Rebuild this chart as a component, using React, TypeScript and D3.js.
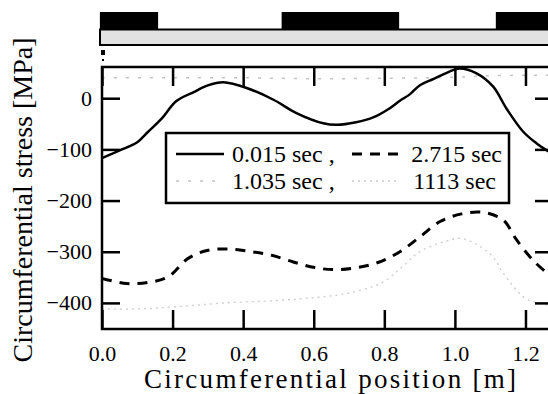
import * as d3 from "d3";
import { useEffect, useRef } from "react";

// circumferential position [m]
const posA = [0, 0.05, 0.1, 0.13, 0.169, 0.21, 0.26, 0.3, 0.344, 0.41, 0.486, 0.551, 0.627, 0.665, 0.72, 0.77, 0.81, 0.844, 0.873, 0.9, 0.94, 0.995, 1.014, 1.06, 1.108, 1.146, 1.193, 1.231, 1.263, 1.28];
// 0.015 sec
const stressA = [-117, -102, -86, -66, -40, -6, 12, 25, 31, 20, -3, -29, -49, -52, -47, -37, -22, -5, 8, 25, 38, 55, 58, 49, 23, -20, -65, -88, -103, -110];

const posB = [0, 0.2, 0.4, 0.6, 0.8, 1.0, 1.1, 1.28];
// 1.035 sec
const stressB = [40, 40, 40, 38, 39, 41, 44, 45];

const posC = [0, 0.07, 0.131, 0.188, 0.244, 0.301, 0.363, 0.425, 0.481, 0.542, 0.603, 0.66, 0.721, 0.782, 0.842, 0.901, 0.958, 1.019, 1.08, 1.137, 1.175, 1.226, 1.28];
// 2.715 sec
const stressC = [-352, -362, -360, -349, -313, -297, -295, -300, -307, -320, -331, -335, -331, -321, -301, -271, -241, -226, -223, -238, -277, -320, -352];

const posD = [0, 0.1, 0.2, 0.35, 0.5, 0.61, 0.705, 0.797, 0.85, 0.9, 0.967, 1.019, 1.06, 1.108, 1.137, 1.2, 1.26, 1.28];
// 1113 sec
const stressD = [-412, -412, -408, -400, -395, -389, -380, -359, -330, -300, -281, -274, -285, -310, -342, -391, -404, -406];

const xTicks = [0, 0.2, 0.4, 0.6, 0.8, 1.0, 1.2];
const yTicks = [0, -100, -200, -300, -400];

// black segments of the strip above the plot
const blackBands: [number, number][] = [
  [-0.006, 0.159],
  [0.509, 0.842],
  [1.116, 1.35],
];

const FONT = "Liberation Serif";

export default function App() {
  const svgRef = useRef<SVGSVGElement>(null);
  const width = 548;
  const height = 394;

  useEffect(() => {
    if (!svgRef.current) return;
    const svg = d3.select(svgRef.current);
    svg.selectAll("*").remove();

    const margin = { top: 67, right: -5, bottom: 65, left: 102 };
    const innerWidth = width - margin.left - margin.right;
    const innerHeight = height - margin.top - margin.bottom;

    const x = d3.scaleLinear().domain([0, 1.278]).range([0, innerWidth]);
    const y = d3.scaleLinear().domain([-451, 61]).range([innerHeight, 0]);

    // strip on top
    const top = svg.append("g").attr("transform", `translate(${margin.left},0)`);
    top
      .append("rect")
      .attr("x", -2)
      .attr("y", 29.5)
      .attr("width", innerWidth + 10)
      .attr("height", 15.5)
      .style("fill", "#e2e2e2")
      .style("stroke", "#000")
      .style("stroke-width", 2);
    top
      .selectAll(".band")
      .data(blackBands)
      .enter()
      .append("rect")
      .attr("x", (d) => x(d[0]))
      .attr("y", 12)
      .attr("width", (d) => x(d[1]) - x(d[0]))
      .attr("height", 18)
      .style("fill", "#000");
    top.append("rect").attr("x", -1).attr("y", 50).attr("width", 4).attr("height", 5).style("fill", "#000");
    top.append("rect").attr("x", 0).attr("y", 59).attr("width", 2).attr("height", 2).style("fill", "#000");

    const g = svg
      .append("g")
      .attr("transform", `translate(${margin.left},${margin.top})`);

    const line = (xs: number[], ys: number[]) =>
      d3
        .line<number>()
        .x((_, i) => x(xs[i]))
        .y((d) => y(d))
        .curve(d3.curveCatmullRom.alpha(0.5))(ys);

    g.append("clipPath")
      .attr("id", "plotclip")
      .append("rect")
      .attr("width", innerWidth)
      .attr("height", innerHeight);

    const lines = g.append("g").attr("clip-path", "url(#plotclip)");

    lines
      .append("path")
      .attr("d", line(posB, stressB))
      .style("fill", "none")
      .style("stroke", "#c4c4c4")
      .style("stroke-width", 1.5)
      .style("stroke-dasharray", "3,9");

    lines
      .append("path")
      .attr("d", line(posD, stressD))
      .style("fill", "none")
      .style("stroke", "#cccccc")
      .style("stroke-width", 1.3)
      .style("stroke-dasharray", "2,4");

    lines
      .append("path")
      .attr("d", line(posC, stressC))
      .style("fill", "none")
      .style("stroke", "#000")
      .style("stroke-width", 3)
      .style("stroke-dasharray", "10,8");

    lines
      .append("path")
      .attr("d", line(posA, stressA))
      .style("fill", "none")
      .style("stroke", "#000")
      .style("stroke-width", 2.5);

    // axes
    const fmtX = d3.format(".1f");
    const fmtY = (d: d3.NumberValue) => {
      const v = +d;
      return v < 0 ? "\u2212" + Math.abs(v) : String(v);
    };

    const xAxis = g
      .append("g")
      .attr("transform", `translate(0,${innerHeight})`)
      .call(d3.axisBottom(x).tickValues(xTicks).tickFormat((d) => fmtX(+d)).tickSizeInner(-19).tickSizeOuter(0).tickPadding(16));
    const xAxisTop = g
      .append("g")
      .call(d3.axisTop(x).tickValues(xTicks).tickFormat(() => "").tickSizeInner(-19).tickSizeOuter(0));
    const yAxis = g
      .append("g")
      .call(d3.axisLeft(y).tickValues(yTicks).tickFormat(fmtY).tickSizeInner(-18).tickSizeOuter(0).tickPadding(10));
    const yAxisRight = g
      .append("g")
      .attr("transform", `translate(${innerWidth},0)`)
      .call(d3.axisRight(y).tickValues(yTicks).tickFormat(() => "").tickSizeInner(-18).tickSizeOuter(0));

    [xAxis, xAxisTop, yAxis, yAxisRight].forEach((a) => {
      a.select(".domain").remove();
      a.attr("font-family", FONT).attr("font-size", 22);
      a.selectAll(".tick line").attr("stroke", "#000").attr("stroke-width", 2.5);
      a.selectAll("text").attr("fill", "#000");
    });

    // frame
    g.append("rect")
      .attr("width", innerWidth)
      .attr("height", innerHeight)
      .style("fill", "none")
      .style("stroke", "#000")
      .style("stroke-width", 2.5);

    // legend
    const legend = g.append("g").attr("transform", `translate(${166 - margin.left},${133 - margin.top})`);
    legend
      .append("rect")
      .attr("width", 343)
      .attr("height", 70)
      .style("fill", "#fff")
      .style("stroke", "#000")
      .style("stroke-width", 2.5);

    const items = [
      { label: "0.015 sec ,", dash: "none", color: "#000", w: 2.5, lx: 10, tx: 66, row: 0, anchor: "start" },
      { label: "2.715 sec", dash: "10,8", color: "#000", w: 3, lx: 186, tx: 336, row: 0, anchor: "end" },
      { label: "1.035 sec ,", dash: "3,9", color: "#c4c4c4", w: 1.5, lx: 10, tx: 66, row: 1, anchor: "start" },
      { label: "1113 sec", dash: "2,4", color: "#cccccc", w: 1.3, lx: 186, tx: 330, row: 1, anchor: "end" },
    ];
    items.forEach((it) => {
      const yy = 21 + it.row * 27;
      legend
        .append("line")
        .attr("x1", it.lx)
        .attr("x2", it.lx + 48)
        .attr("y1", yy)
        .attr("y2", yy)
        .style("stroke", it.color)
        .style("stroke-width", it.w)
        .style("stroke-dasharray", it.dash);
      legend
        .append("text")
        .attr("x", it.tx)
        .attr("y", yy + 8)
        .attr("text-anchor", it.anchor)
        .attr("font-family", FONT)
        .attr("font-size", 24)
        .attr("fill", "#000")
        .text(it.label);
    });

    // axis titles
    svg
      .append("text")
      .attr("x", 144)
      .attr("y", 388)
      .attr("textLength", 372)
      .attr("lengthAdjust", "spacing")
      .attr("font-family", FONT)
      .attr("font-size", 27)
      .attr("fill", "#000")
      .text("Circumferential position [m]");

    svg
      .append("text")
      .attr("transform", "rotate(-90)")
      .attr("x", -200)
      .attr("y", 32)
      .attr("text-anchor", "middle")
      .attr("font-family", FONT)
      .attr("font-size", 28)
      .attr("fill", "#000")
      .text("Circumferential stress [MPa]");
  }, []);

  return (
    <svg
      ref={svgRef}
      width={width}
      height={height}
      fontFamily={FONT}
      style={{ position: "absolute", left: 0, top: 0, background: "#fff" }}
    />
  );
}
